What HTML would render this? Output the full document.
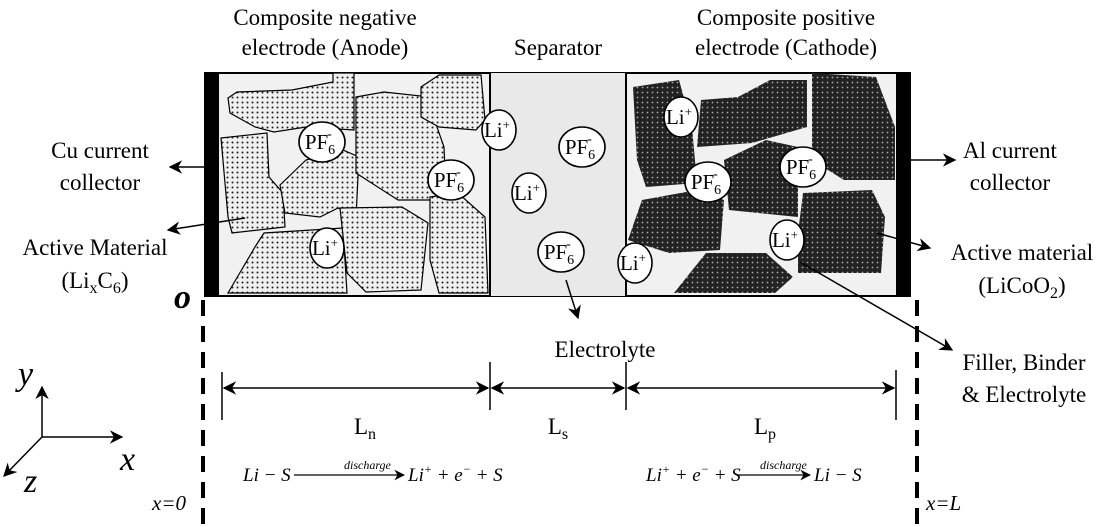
<!DOCTYPE html>
<html><head><meta charset="utf-8"><style>
html,body{margin:0;padding:0;background:#fff;}
svg{display:block;}
text{font-family:"Liberation Serif","Times New Roman",serif;}
</style></head><body>
<svg width="1106" height="527" viewBox="0 0 1106 527" xmlns="http://www.w3.org/2000/svg" font-family="Liberation Serif, serif">
<defs>
<pattern id="ad" width="5" height="5" patternUnits="userSpaceOnUse"><rect width="5" height="5" fill="#f0f0f0"/><circle cx="2.5" cy="2.5" r="1" fill="#222"/></pattern>
<pattern id="cd" width="5" height="5" patternUnits="userSpaceOnUse"><rect width="5" height="5" fill="#222"/><circle cx="2.5" cy="2.5" r="0.9" fill="#aaa"/></pattern>
<marker id="ar" viewBox="0 0 10 10" refX="9" refY="5" markerWidth="9" markerHeight="9" orient="auto-start-reverse"><path d="M0,0 L10,5 L0,10 L3,5 z" fill="#000"/></marker>
</defs>
<rect x="205" y="73" width="705" height="223" fill="#f1f1f1" stroke="#000" stroke-width="2"/>
<rect x="490" y="73" width="136" height="223" fill="#e9e9e9"/>
<g stroke="#000" stroke-width="1.2">
<polygon fill="url(#ad)" points="228,98 237,92 292,90 333,82 333,73 354,73 354,130 306,127 274,132 255,127 230,113"/>
<polygon fill="url(#ad)" points="221,138 267,133 269,177 283,193 285,227 232,233 228,217"/>
<polygon fill="url(#ad)" points="280,185 306,160 343,150 359,157 356,217 338,208 320,217 285,213"/>
<polygon fill="url(#ad)" points="356,97 384,92 430,97 437,127 444,147 446,193 432,200 398,200 356,173"/>
<polygon fill="url(#ad)" points="421,87 439,75 481,75 485,120 476,130 439,127 421,117"/>
<polygon fill="url(#ad)" points="228,293 255,247 264,233 343,228 347,293"/>
<polygon fill="url(#ad)" points="340,208 402,207 428,223 421,290 366,292 347,273"/>
<polygon fill="url(#ad)" points="430,197 458,193 485,217 488,293 439,293 430,260"/>
</g>
<g stroke="none">
<polygon fill="url(#cd)" points="633,87 679,80 692,127 697,183 646,187 637,160"/>
<polygon fill="url(#cd)" points="701,100 738,97 770,80 807,80 807,127 752,143 697,147"/>
<polygon fill="url(#cd)" points="812,73 876,77 895,127 895,180 844,180 812,160"/>
<polygon fill="url(#cd)" points="724,160 766,140 798,147 798,217 729,210"/>
<polygon fill="url(#cd)" points="642,200 697,190 724,200 720,250 669,253 628,240"/>
<polygon fill="url(#cd)" points="803,193 872,190 885,217 881,273 798,273 798,233"/>
<polygon fill="url(#cd)" points="674,293 706,253 766,253 793,277 775,293"/>
</g>
<line x1="490" y1="73" x2="490" y2="296" stroke="#000" stroke-width="2"/>
<line x1="626" y1="73" x2="626" y2="296" stroke="#000" stroke-width="2"/>
<rect x="205" y="73" width="14" height="223" fill="#000"/>
<rect x="896" y="73" width="14" height="223" fill="#000"/>
<g font-size="21" text-anchor="middle">
<g stroke="#000" fill="#fff" stroke-width="1.6">
<ellipse cx="499" cy="130" rx="17" ry="20"/>
<ellipse cx="322" cy="142" rx="23" ry="20"/>
<ellipse cx="451" cy="180" rx="23" ry="20"/>
<ellipse cx="327" cy="248" rx="17" ry="20"/>
<ellipse cx="582" cy="147" rx="23" ry="20"/>
<ellipse cx="529" cy="193" rx="17" ry="20"/>
<ellipse cx="561" cy="252" rx="23" ry="20"/>
<ellipse cx="635" cy="263" rx="17" ry="20"/>
<ellipse cx="681" cy="117" rx="17" ry="20"/>
<ellipse cx="708" cy="182" rx="23" ry="20"/>
<ellipse cx="803" cy="167" rx="23" ry="20"/>
<ellipse cx="787" cy="240" rx="17" ry="20"/>
</g>
<text x="497" y="137">Li<tspan font-size="13" dy="-8">+</tspan></text>
<text x="325" y="255">Li<tspan font-size="13" dy="-8">+</tspan></text>
<text x="527" y="200">Li<tspan font-size="13" dy="-8">+</tspan></text>
<text x="633" y="270">Li<tspan font-size="13" dy="-8">+</tspan></text>
<text x="679" y="124">Li<tspan font-size="13" dy="-8">+</tspan></text>
<text x="785" y="247">Li<tspan font-size="13" dy="-8">+</tspan></text>
<text x="320" y="149">PF<tspan font-size="14" dy="5">6</tspan><tspan font-size="14" dx="-8" dy="-16">-</tspan></text>
<text x="449" y="187">PF<tspan font-size="14" dy="5">6</tspan><tspan font-size="14" dx="-8" dy="-16">-</tspan></text>
<text x="580" y="154">PF<tspan font-size="14" dy="5">6</tspan><tspan font-size="14" dx="-8" dy="-16">-</tspan></text>
<text x="559" y="259">PF<tspan font-size="14" dy="5">6</tspan><tspan font-size="14" dx="-8" dy="-16">-</tspan></text>
<text x="706" y="189">PF<tspan font-size="14" dy="5">6</tspan><tspan font-size="14" dx="-8" dy="-16">-</tspan></text>
<text x="801" y="174">PF<tspan font-size="14" dy="5">6</tspan><tspan font-size="14" dx="-8" dy="-16">-</tspan></text>
</g>
<g font-size="23" text-anchor="middle">
<text x="325" y="25">Composite negative</text>
<text x="325" y="55">electrode (Anode)</text>
<text x="558" y="55">Separator</text>
<text x="786" y="25">Composite positive</text>
<text x="786" y="55">electrode (Cathode)</text>
<text x="100" y="158">Cu current</text>
<text x="100" y="190">collector</text>
<text x="95" y="255">Active Material</text>
<text x="95" y="288">(Li<tspan font-size="16" dy="5">x</tspan><tspan dy="-5">C</tspan><tspan font-size="16" dy="5">6</tspan><tspan dy="-5">)</tspan></text>
<text x="1010" y="158">Al current</text>
<text x="1010" y="190">collector</text>
<text x="1022" y="260">Active material</text>
<text x="1022" y="293">(LiCoO<tspan font-size="16" dy="5">2</tspan><tspan dy="-5">)</tspan></text>
<text x="1024" y="370">Filler, Binder</text>
<text x="1024" y="402">&amp; Electrolyte</text>
<text x="605" y="357">Electrolyte</text>
<text x="365" y="434">L<tspan font-size="16" dy="5">n</tspan></text>
<text x="558" y="434">L<tspan font-size="16" dy="5">s</tspan></text>
<text x="765" y="434">L<tspan font-size="16" dy="5">p</tspan></text>
</g>
<text x="174" y="308" font-size="34" font-style="italic" font-weight="bold">o</text>
<g stroke="#000" stroke-width="1.5" fill="none">
<line x1="205" y1="167" x2="170" y2="167" marker-end="url(#ar)"/>
<line x1="245" y1="218" x2="168" y2="230" marker-end="url(#ar)"/>
<line x1="910" y1="160" x2="955" y2="160" marker-end="url(#ar)"/>
<line x1="877" y1="233" x2="930" y2="248" marker-end="url(#ar)"/>
<line x1="800" y1="262" x2="952" y2="350" marker-end="url(#ar)"/>
<line x1="566" y1="280" x2="578" y2="318" marker-end="url(#ar)"/>
<line x1="222" y1="372" x2="222" y2="420"/>
<line x1="490" y1="362" x2="490" y2="410"/>
<line x1="626" y1="362" x2="626" y2="410"/>
<line x1="896" y1="370" x2="896" y2="420"/>
<line x1="224" y1="388" x2="488" y2="388" marker-start="url(#ar)" marker-end="url(#ar)"/>
<line x1="492" y1="388" x2="624" y2="388" marker-start="url(#ar)" marker-end="url(#ar)"/>
<line x1="628" y1="388" x2="894" y2="388" marker-start="url(#ar)" marker-end="url(#ar)"/>
<line x1="42" y1="437" x2="42" y2="387" marker-end="url(#ar)"/>
<line x1="42" y1="437" x2="122" y2="437" marker-end="url(#ar)"/>
<line x1="42" y1="437" x2="4" y2="476" marker-end="url(#ar)"/>
</g>
<g stroke="#000" stroke-width="4" stroke-dasharray="16,10">
<line x1="203" y1="300" x2="203" y2="527"/>
<line x1="917" y1="300" x2="917" y2="527"/>
</g>
<g font-style="italic">
<text x="18" y="385" font-size="34">y</text>
<text x="120" y="470" font-size="34">x</text>
<text x="24" y="492" font-size="34">z</text>
<text x="152" y="510" font-size="21">x=0</text>
<text x="926" y="510" font-size="21">x=L</text>
<g font-size="19">
<text x="243" y="481">Li − S</text>
<text x="408" y="481">Li<tspan font-size="12" dy="-8">+</tspan><tspan dy="8"> + e</tspan><tspan font-size="12" dy="-8">−</tspan><tspan dy="8"> + S</tspan></text>
<text x="646" y="481">Li<tspan font-size="12" dy="-8">+</tspan><tspan dy="8"> + e</tspan><tspan font-size="12" dy="-8">−</tspan><tspan dy="8"> + S</tspan></text>
<text x="814" y="481">Li − S</text>
</g>
<text x="344" y="469" font-size="12">discharge</text>
<text x="760" y="469" font-size="12">discharge</text>
</g>
<g stroke="#000" stroke-width="1.2">
<line x1="294" y1="475" x2="404" y2="475" marker-end="url(#ar)"/>
<line x1="738" y1="475" x2="810" y2="475" marker-end="url(#ar)"/>
</g>
</svg>
</body></html>
